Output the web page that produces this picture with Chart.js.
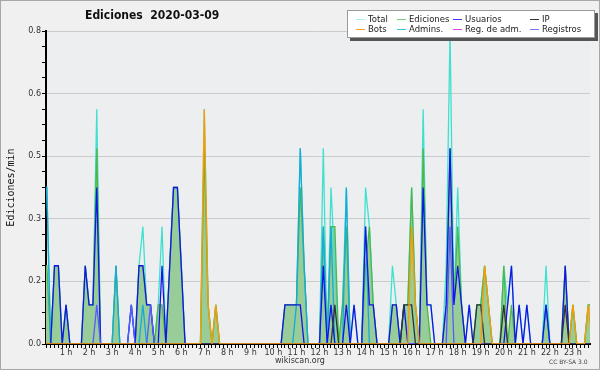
<!DOCTYPE html>
<html>
<head>
<meta charset="utf-8">
<script src="https://cdn.jsdelivr.net/npm/chart.js@4.4.1/dist/chart.umd.min.js"></script>
<style>
  body { margin: 0; background: #fff; }
  #wrap { position: relative; width: 600px; height: 370px; font-family: 'DejaVu Sans', sans-serif; }
  #c { position: absolute; left: 0; top: 0; }
  #title { position: absolute; left: 85px; top: 8px; font: bold 12px 'DejaVu Sans Condensed', 'DejaVu Sans', sans-serif; color: #111; white-space: pre; }
  #legend { position: absolute; left: 347px; top: 10px; width: 246px; height: 26px; background: #fff; border: 1px solid #9a9a9a; box-shadow: 3px 3px 0 #555; }
  .it { position: absolute; font-size: 8.5px; color: #222; line-height: 10px; white-space: nowrap; }
  .it i { display: inline-block; width: 9px; height: 1px; vertical-align: middle; margin-right: 3px; }
  #site { position: absolute; left: 0; width: 600px; top: 356px; text-align: center; font-size: 8px; color: #333; }
  #cc { position: absolute; left: 549px; top: 358px; font-size: 6px; color: #444; }
</style>
</head>
<body>
<div id="wrap">
  <canvas id="c" width="600" height="370"></canvas>
  <div id="title">Ediciones  2020-03-09</div>
  <div id="legend"></div>
  <div id="site">wikiscan.org</div>
  <div id="cc">CC BY-SA 3.0</div>
</div>
<script>
// 10-minute bins, 0 = 00:00
const bins = Array.from({ length: 144 }, (_, i) => i);

const total = [
  .4,.4,0,.2,.2,0,.1,0,0,0,0,.2,
  .1,.1,.6,0,0,0,0,.2,0,0,0,.1,
  0,.2,.3,.1,.1,0,.1,.3,0,.2,.4,.4,
  .2,0,0,0,0,0,.6,.1,0,.1,0,0,
  0,0,0,0,0,0,0,0,0,0,0,0,
  0,0,0,.1,.1,.1,.1,.5,.2,0,0,0,
  0,.5,0,.4,.2,0,.1,.4,0,.1,0,0,
  .4,.3,.1,0,0,0,0,.2,.1,0,.1,.1,
  .4,.1,0,.6,.1,.1,0,0,0,.2,.8,.1,
  .4,.1,0,.1,0,.1,.1,.2,.1,0,0,0,
  .2,.1,.2,0,.1,0,.1,0,0,0,0,.2,
  0,0,0,0,.2,0,.1,0,0,0,.1,.1
];
const ediciones = [
  .2,.2,0,.2,.2,0,.1,0,0,0,0,.2,
  .1,.1,.5,0,0,0,0,.2,0,0,0,0,
  0,.2,.2,.1,.1,0,.1,.1,0,.2,.4,.4,
  .2,0,0,0,0,0,.5,.1,0,.1,0,0,
  0,0,0,0,0,0,0,0,0,0,0,0,
  0,0,0,.1,.1,.1,.1,.4,.2,0,0,0,
  0,.3,0,.3,.3,0,.1,.3,0,0,0,0,
  .2,.3,.1,0,0,0,0,.1,.1,0,.1,.1,
  .4,.1,0,.5,.1,0,0,0,0,.1,.5,.1,
  .3,.1,0,0,0,.1,.1,.2,.1,0,0,0,
  .2,0,.1,0,0,0,0,0,0,0,0,.1,
  0,0,0,0,.2,0,.1,0,0,0,.1,.1
];
const usuarios = [
  0,0,0,.2,.2,0,.1,0,0,0,0,.2,
  .1,.1,.4,0,0,0,0,0,0,0,0,.1,
  0,.2,.2,.1,.1,0,0,.2,0,.2,.4,.4,
  .2,0,0,0,0,0,0,0,0,0,0,0,
  0,0,0,0,0,0,0,0,0,0,0,0,
  0,0,0,.1,.1,.1,.1,.1,0,0,0,0,
  0,.2,0,.1,0,0,0,.1,0,.1,0,0,
  .3,.1,.1,0,0,0,0,.1,.1,0,.1,0,
  0,0,0,.4,.1,.1,0,0,0,.1,.5,.1,
  .2,.1,0,.1,0,0,0,0,0,0,0,0,
  0,.1,.2,0,.1,0,.1,0,0,0,0,.1,
  0,0,0,0,.2,0,0,0,0,0,0,0
];
const ip = [
  0,0,0,0,0,0,0,0,0,0,0,0,
  0,0,0,0,0,0,0,0,0,0,0,0,
  0,0,0,0,0,0,0,0,0,0,0,0,
  0,0,0,0,0,0,0,0,0,0,0,0,
  0,0,0,0,0,0,0,0,0,0,0,0,
  0,0,0,0,0,0,0,0,0,0,0,0,
  0,0,0,0,.1,0,0,0,0,0,0,0,
  0,0,0,0,0,0,0,0,0,0,.1,.1,
  .1,0,0,0,0,0,0,0,0,0,0,0,
  0,0,0,0,0,.1,.1,0,0,0,0,0,
  .1,0,0,0,0,0,0,0,0,0,0,0,
  0,0,0,0,.1,0,0,0,0,0,0,0
];
const bots = [
  0,0,0,0,0,0,0,0,0,0,0,0,
  0,0,0,0,0,0,0,0,0,0,0,0,
  0,0,0,0,0,0,0,0,0,0,0,0,
  0,0,0,0,0,0,.6,.1,0,.1,0,0,
  0,0,0,0,0,0,0,0,0,0,0,0,
  0,0,0,0,0,0,0,0,0,0,0,0,
  0,0,0,0,0,0,0,0,0,0,0,0,
  0,0,0,0,0,0,0,0,0,0,0,0,
  .3,.1,0,0,0,0,0,0,0,0,0,0,
  0,0,0,0,0,0,0,.2,.1,0,0,0,
  0,0,0,0,0,0,0,0,0,0,0,0,
  0,0,0,0,0,0,.1,0,0,0,.1,0
];
const admins = [
  .4,.4,0,0,0,0,0,0,0,0,0,0,
  0,0,0,0,0,0,0,.2,0,0,0,0,
  0,0,.1,0,0,0,0,0,0,0,0,0,
  0,0,0,0,0,0,0,0,0,0,0,0,
  0,0,0,0,0,0,0,0,0,0,0,0,
  0,0,0,0,0,0,.1,.5,.2,0,0,0,
  0,.3,0,.3,0,0,0,.4,0,0,0,0,
  .3,0,0,0,0,0,0,0,0,0,0,0,
  0,0,0,0,0,0,0,0,0,0,0,0,
  0,0,0,0,0,0,0,0,0,0,0,0,
  0,0,0,0,0,0,0,0,0,0,0,.1,
  0,0,0,0,0,0,0,0,0,0,0,0
];
const regAdm = bins.map(() => 0);
const registros = [
  0,0,0,0,0,0,0,0,0,0,0,0,
  0,0,.1,0,0,0,0,0,0,0,0,.1,
  0,0,0,0,.1,0,0,0,0,0,0,0,
  0,0,0,0,0,0,0,0,0,0,0,0,
  0,0,0,0,0,0,0,0,0,0,0,0,
  0,0,0,0,0,0,0,0,0,0,0,0,
  0,0,0,0,0,0,0,0,0,0,0,0,
  0,0,0,0,0,0,0,0,0,0,0,0,
  0,0,0,0,0,0,0,0,0,0,.3,0,
  0,0,0,0,0,0,0,0,0,0,0,0,
  0,0,0,0,0,0,0,0,0,0,0,0,
  0,0,0,0,0,0,0,0,0,0,0,0
];

const seriesNames = ['Total', 'Ediciones', 'Usuarios', 'IP', 'Bots', 'Admins.', 'Reg. de adm.', 'Registros'];
const legendColors = ['#a8ecec', '#77cc77', '#3b3bff', '#333333', '#ffa030', '#33ccdd', '#dd44dd', '#7777ff'];
const legendPos = [[356, 14], [397, 14], [453, 14], [530, 14], [356, 24], [397, 24], [453, 24], [530, 24]];

// legend (html)
const legend = document.getElementById('legend');
seriesNames.forEach((name, k) => {
  const d = document.createElement('div');
  d.className = 'it';
  d.style.left = (legendPos[k][0] - 348) + 'px';
  d.style.top = (legendPos[k][1] - 11) + 'px';
  d.innerHTML = '<i style="background:' + legendColors[k] + '"></i>' + name;
  legend.appendChild(d);
});

const bgPlugin = {
  id: 'bg',
  beforeDraw(chart) {
    const { ctx, chartArea: a } = chart;
    ctx.save();
    ctx.fillStyle = '#f0f0f0';
    ctx.fillRect(0, 0, chart.width, chart.height);
    ctx.fillStyle = '#edeef0';
    ctx.fillRect(a.left, a.top, a.right - a.left, a.bottom - a.top);
    ctx.strokeStyle = '#a8a8a8';
    ctx.strokeRect(0.5, 0.5, chart.width - 1, chart.height - 1);
    ctx.restore();
  }
};

function line(data, color, extra) {
  return Object.assign({
    data, borderColor: color, borderWidth: 1.3, pointRadius: 0, tension: 0, fill: false
  }, extra || {});
}

// first dataset is drawn on top
const datasets = [
  line(bots, '#ff9900'),
  line(ip, '#333333'),
  line(registros, '#5a5aff'),
  line(regAdm, '#dd33dd'),
  line(usuarios, '#1414e6'),
  line(admins, '#19a9d9'),
  line(ediciones, '#4cb84c', { fill: 'origin', backgroundColor: '#98cc98' }),
  line(total, '#40e0d0')
];

new Chart(document.getElementById('c'), {
  type: 'line',
  data: { labels: bins, datasets },
  options: {
    responsive: false,
    animation: false,
    devicePixelRatio: 1,
    layout: { padding: { top: 31, right: 10, left: 0, bottom: 0 } },
    plugins: { legend: { display: false }, tooltip: { enabled: false }, filler: { drawTime: 'beforeDatasetsDraw' } },
    scales: {
      x: {
        type: 'linear', min: 0.78, max: 142.45,
        afterBuildTicks: s => { s.ticks = bins.filter(i => i >= 1 && i <= 142).map(v => ({ value: v })); },
        afterFit: s => { s.height = 26; },
        ticks: {
          autoSkip: false, maxRotation: 0, padding: 0, color: '#333',
          font: { family: 'DejaVu Sans', size: 8 },
          callback: v => (v % 6 === 0 ? (v / 6) + ' h' : '')
        },
        grid: { drawOnChartArea: false, tickLength: 4, tickColor: '#000' },
        border: { color: '#000', width: 2 }
      },
      y: {
        min: 0, max: 0.8,
        afterBuildTicks: s => { s.ticks = Array.from({ length: 21 }, (_, k) => ({ value: k * 0.04 })); },
        afterFit: s => { s.width = 46; },
        ticks: {
          autoSkip: false, padding: 1, color: '#333',
          font: { family: 'DejaVu Sans', size: 8 },
          callback: (v, i) => (i % 4 === 0 ? v.toFixed(1) : '')
        },
        grid: {
          color: c => (c.index % 4 === 0 && c.index > 0 ? '#cbcbcb' : 'rgba(0,0,0,0)'),
          tickColor: '#000', tickLength: 4
        },
        border: { color: '#000', width: 2 },
        title: {
          display: true, text: 'Ediciones/min', color: '#111',
          font: { family: 'DejaVu Sans Mono', size: 10 },
          padding: { top: 5, bottom: 0 }
        }
      }
    }
  },
  plugins: [bgPlugin]
});
</script>
</body>
</html>
